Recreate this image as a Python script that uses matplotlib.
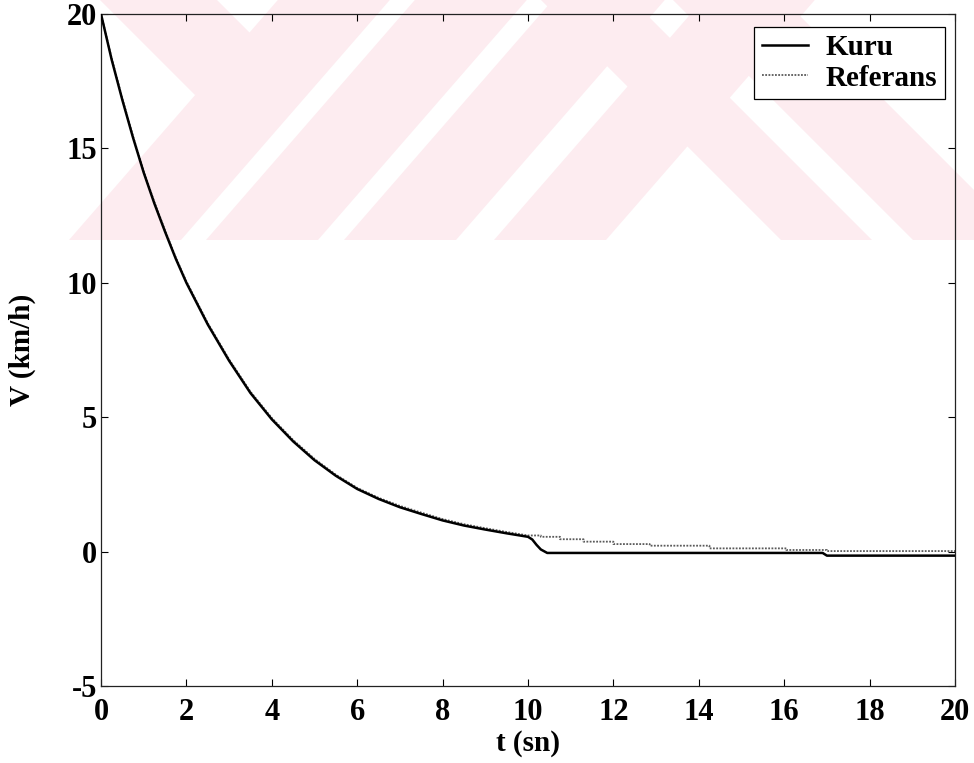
import matplotlib
matplotlib.use("Agg")
import matplotlib.pyplot as plt
from matplotlib.patches import Polygon

# ---------------- data ----------------
kuru_t = [0, 0.25, 0.5, 0.75, 1, 1.25, 1.5, 1.75, 2, 2.5, 3, 3.5, 4, 4.5, 5,
          5.5, 6, 6.5, 7, 7.5, 8, 8.5, 9, 9.5, 10.0, 10.1, 10.2, 10.3, 10.45,
          16.9, 17.0, 20]
kuru_v = [20, 18.3, 16.8, 15.4, 14.1, 12.95, 11.9, 10.9, 10.0, 8.45, 7.1,
          5.9, 4.92, 4.1, 3.4, 2.82, 2.33, 1.96, 1.65, 1.4, 1.16, 0.97, 0.82,
          0.68, 0.55, 0.45, 0.25, 0.08, -0.05, -0.05, -0.15, -0.15]

ref_t = [0, 0.25, 0.5, 0.75, 1, 1.25, 1.5, 1.75, 2, 2.5, 3, 3.5, 4, 4.5, 5,
         5.5, 6, 6.5, 7, 7.5, 8, 8.5, 9, 9.5, 10.0, 10.3, 10.3, 10.75, 10.75,
         11.3, 11.3, 12.0, 12.0, 12.85, 12.85, 14.25, 14.25, 16.05, 16.05,
         17.0, 17.0, 20]
ref_v = [20, 18.35, 16.85, 15.45, 14.15, 13.0, 11.95, 10.95, 10.05, 8.5,
         7.15, 5.95, 4.97, 4.15, 3.45, 2.86, 2.37, 2.0, 1.7, 1.45, 1.21, 1.02,
         0.87, 0.73, 0.6, 0.6, 0.55, 0.55, 0.46, 0.46, 0.37, 0.37, 0.28, 0.28,
         0.22, 0.22, 0.12, 0.12, 0.06, 0.06, 0.02, 0.02]

series_labels = ["Kuru", "Referans"]
x_ticks = [0, 2, 4, 6, 8, 10, 12, 14, 16, 18, 20]
y_ticks = [-5, 0, 5, 10, 15, 20]
x_label = "t (sn)"
y_label = "V (km/h)"

# ---------------- figure ----------------
W, H = 974, 763
fig = plt.figure(figsize=(W / 100, H / 100), dpi=100)
fig.patch.set_facecolor("white")

# faint pink scan watermark (figure pixel coordinates, top-left origin)
pink = (0.993, 0.925, 0.94)
def px(pts):
    return [(x / W, 1 - y / H) for x, y in pts]

def add_shape(pts):
    fig.patches.append(Polygon(px(pts), closed=True, transform=fig.transFigure,
                               facecolor=pink, edgecolor="none", zorder=-5))

band_bottom, slope, width = 240, 0.87, 112
for x0 in (69, 206, 344, 494):
    add_shape([(x0, band_bottom), (x0 + width, band_bottom),
               (x0 + width + slope * band_bottom, 0), (x0 + slope * band_bottom, 0)])
for xa, wa in ((781, 91), (913, 111)):
    add_shape([(xa, band_bottom), (xa + wa, band_bottom),
               (xa + wa - band_bottom, 0), (xa - band_bottom, 0)])
add_shape([(100, 0), (217, 0), (275, 58), (195, 95)])

ax = fig.add_axes([101 / W, 1 - 686 / H, (955 - 101) / W, (686 - 14) / H])
ax.set_zorder(1)
ax.set_facecolor("none")

ax.plot(ref_t, ref_v, color="#5a5a5a", lw=1.3, linestyle=(0, (1, 0.8)),
        label=series_labels[1], zorder=2)
ax.plot(kuru_t, kuru_v, color="black", lw=1.8, label=series_labels[0], zorder=3)

ax.set_xlim(0, 20)
ax.set_ylim(-5, 20)
ax.set_xticks(x_ticks)
ax.set_yticks(y_ticks)

tick_font = {"family": "Liberation Serif", "weight": "bold", "size": 22}
label_font = {"family": "Liberation Serif", "weight": "bold", "size": 21}
ax.set_xticklabels([str(v) for v in x_ticks], fontdict=tick_font)
ax.set_yticklabels([str(v) for v in y_ticks], fontdict=tick_font)
ax.tick_params(direction="in", length=5, width=0.8, top=True, right=True,
               colors="black")
ax.tick_params(axis="x", pad=9)
ax.tick_params(axis="y", pad=3)
for s in ax.spines.values():
    s.set_linewidth(0.9)
    s.set_color("#222222")

ax.set_xlabel(x_label, fontdict=label_font, labelpad=2)
ax.set_ylabel(y_label, fontdict=label_font, labelpad=22)

handles, labels = ax.get_legend_handles_labels()
order = [1, 0]
leg = ax.legend([handles[i] for i in order], [labels[i] for i in order],
                loc="upper right", bbox_to_anchor=(0.988, 0.981),
                prop={"family": "Liberation Serif", "weight": "bold", "size": 21},
                frameon=True, fancybox=False, framealpha=1, edgecolor="black",
                handlelength=1.6, handletextpad=0.6, borderpad=0.25,
                labelspacing=0.12, borderaxespad=0)
leg.get_frame().set_linewidth(0.9)
leg.set_zorder(5)

fig.savefig("out.png", dpi=100)
